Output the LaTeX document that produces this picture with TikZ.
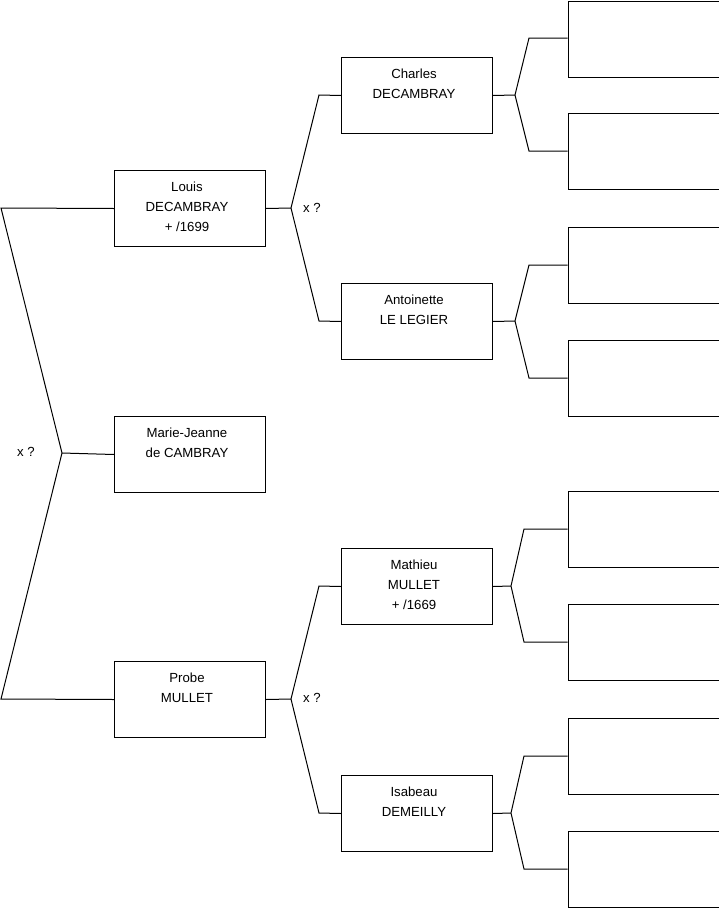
\documentclass[tikz,border=0pt]{standalone}
\usepackage{fontspec}
\setmainfont{Liberation Sans}
\begin{document}
\begin{tikzpicture}[x=1pt,y=-1pt,
  box/.style={draw=black, line width=1pt, minimum width=151pt, minimum height=76pt, inner sep=0pt, anchor=north west},
  lbl/.style={font=\fontsize{13.2}{20}\selectfont, align=center, anchor=north, inner sep=0pt},
  xmark/.style={font=\fontsize{13.2}{20}\selectfont, inner sep=0pt},
  wire/.style={draw=black, line width=1pt}]
\useasboundingbox (0,0) rectangle (719,908);
% generation 1-2 boxes
\node[box] (L) at (114,170) {};
\node[box] (M) at (114,416) {};
\node[box] (P) at (114,661) {};
\node[box] (C) at (341,57) {};
\node[box] (A) at (341,283) {};
\node[box] (T) at (341,548) {};
\node[box] (I) at (341,775) {};
% empty boxes
\node[box] (r1) at (567.5,0.5) {};
\node[box] (r2) at (567.5,113) {};
\node[box] (r3) at (567.5,227) {};
\node[box] (r4) at (567.5,340) {};
\node[box] (r5) at (567.5,491) {};
\node[box] (r6) at (567.5,604) {};
\node[box] (r7) at (567.5,718) {};
\node[box] (r8) at (567.5,831) {};
% texts
\node[lbl] (tL) at ([xshift=-3pt,yshift=-12pt]L.north) {Louis\\DECAMBRAY\\+ /1699};
\node[lbl] (tM) at ([xshift=-3pt,yshift=-12pt]M.north) {Marie-Jeanne\\de CAMBRAY};
\node[lbl] (tP) at ([xshift=-3pt,yshift=-12pt]P.north) {Probe\\MULLET};
\node[lbl] (tC) at ([xshift=-3pt,yshift=-12pt]C.north) {Charles\\DECAMBRAY};
\node[lbl] (tA) at ([xshift=-3pt,yshift=-12pt]A.north) {Antoinette\\LE LEGIER};
\node[lbl] (tT) at ([xshift=-3pt,yshift=-12pt]T.north) {Mathieu\\MULLET\\+ /1669};
\node[lbl] (tI) at ([xshift=-3pt,yshift=-12pt]I.north) {Isabeau\\DEMEILLY};
\node[xmark] (x0) at (26,452) {x ?};
\node[xmark] (x1) at (312,208) {x ?};
\node[xmark] (x2) at (312,698) {x ?};
% coordinates
\coordinate (a1) at (1,208);
\coordinate (a2) at (1,699);
\coordinate (f0) at (62,453);
\coordinate (fL) at (291,208);
\coordinate (fP) at (291,699);
\coordinate (eC) at (319,95);
\coordinate (eA) at (319,321);
\coordinate (eT) at (319,586);
\coordinate (eI) at (319,813);
\coordinate (fC) at (515,95);
\coordinate (fA) at (515,321);
\coordinate (fT) at (511,586);
\coordinate (fI) at (511,813);
\coordinate (g1) at (529,38);
\coordinate (g2) at (529,151);
\coordinate (g3) at (529,265);
\coordinate (g4) at (529,378);
\coordinate (g5) at (524,529);
\coordinate (g6) at (524,642);
\coordinate (g7) at (524,756);
\coordinate (g8) at (524,869);
% connectors
\draw[wire] (L.west) -- (a1) -- (f0) -- (a2) -- (P.west);
\draw[wire] (f0) -- (M.west);
\draw[wire] (L.east) -- (fL);
\draw[wire] (C.west) -- (eC) -- (fL) -- (eA) -- (A.west);
\draw[wire] (P.east) -- (fP);
\draw[wire] (T.west) -- (eT) -- (fP) -- (eI) -- (I.west);
\draw[wire] (C.east) -- (fC);
\draw[wire] (r1.west |- g1) -- (g1) -- (fC) -- (g2) -- (r2.west |- g2);
\draw[wire] (A.east) -- (fA);
\draw[wire] (r3.west |- g3) -- (g3) -- (fA) -- (g4) -- (r4.west |- g4);
\draw[wire] (T.east) -- (fT);
\draw[wire] (r5.west |- g5) -- (g5) -- (fT) -- (g6) -- (r6.west |- g6);
\draw[wire] (I.east) -- (fI);
\draw[wire] (r7.west |- g7) -- (g7) -- (fI) -- (g8) -- (r8.west |- g8);
\end{tikzpicture}
\end{document}
